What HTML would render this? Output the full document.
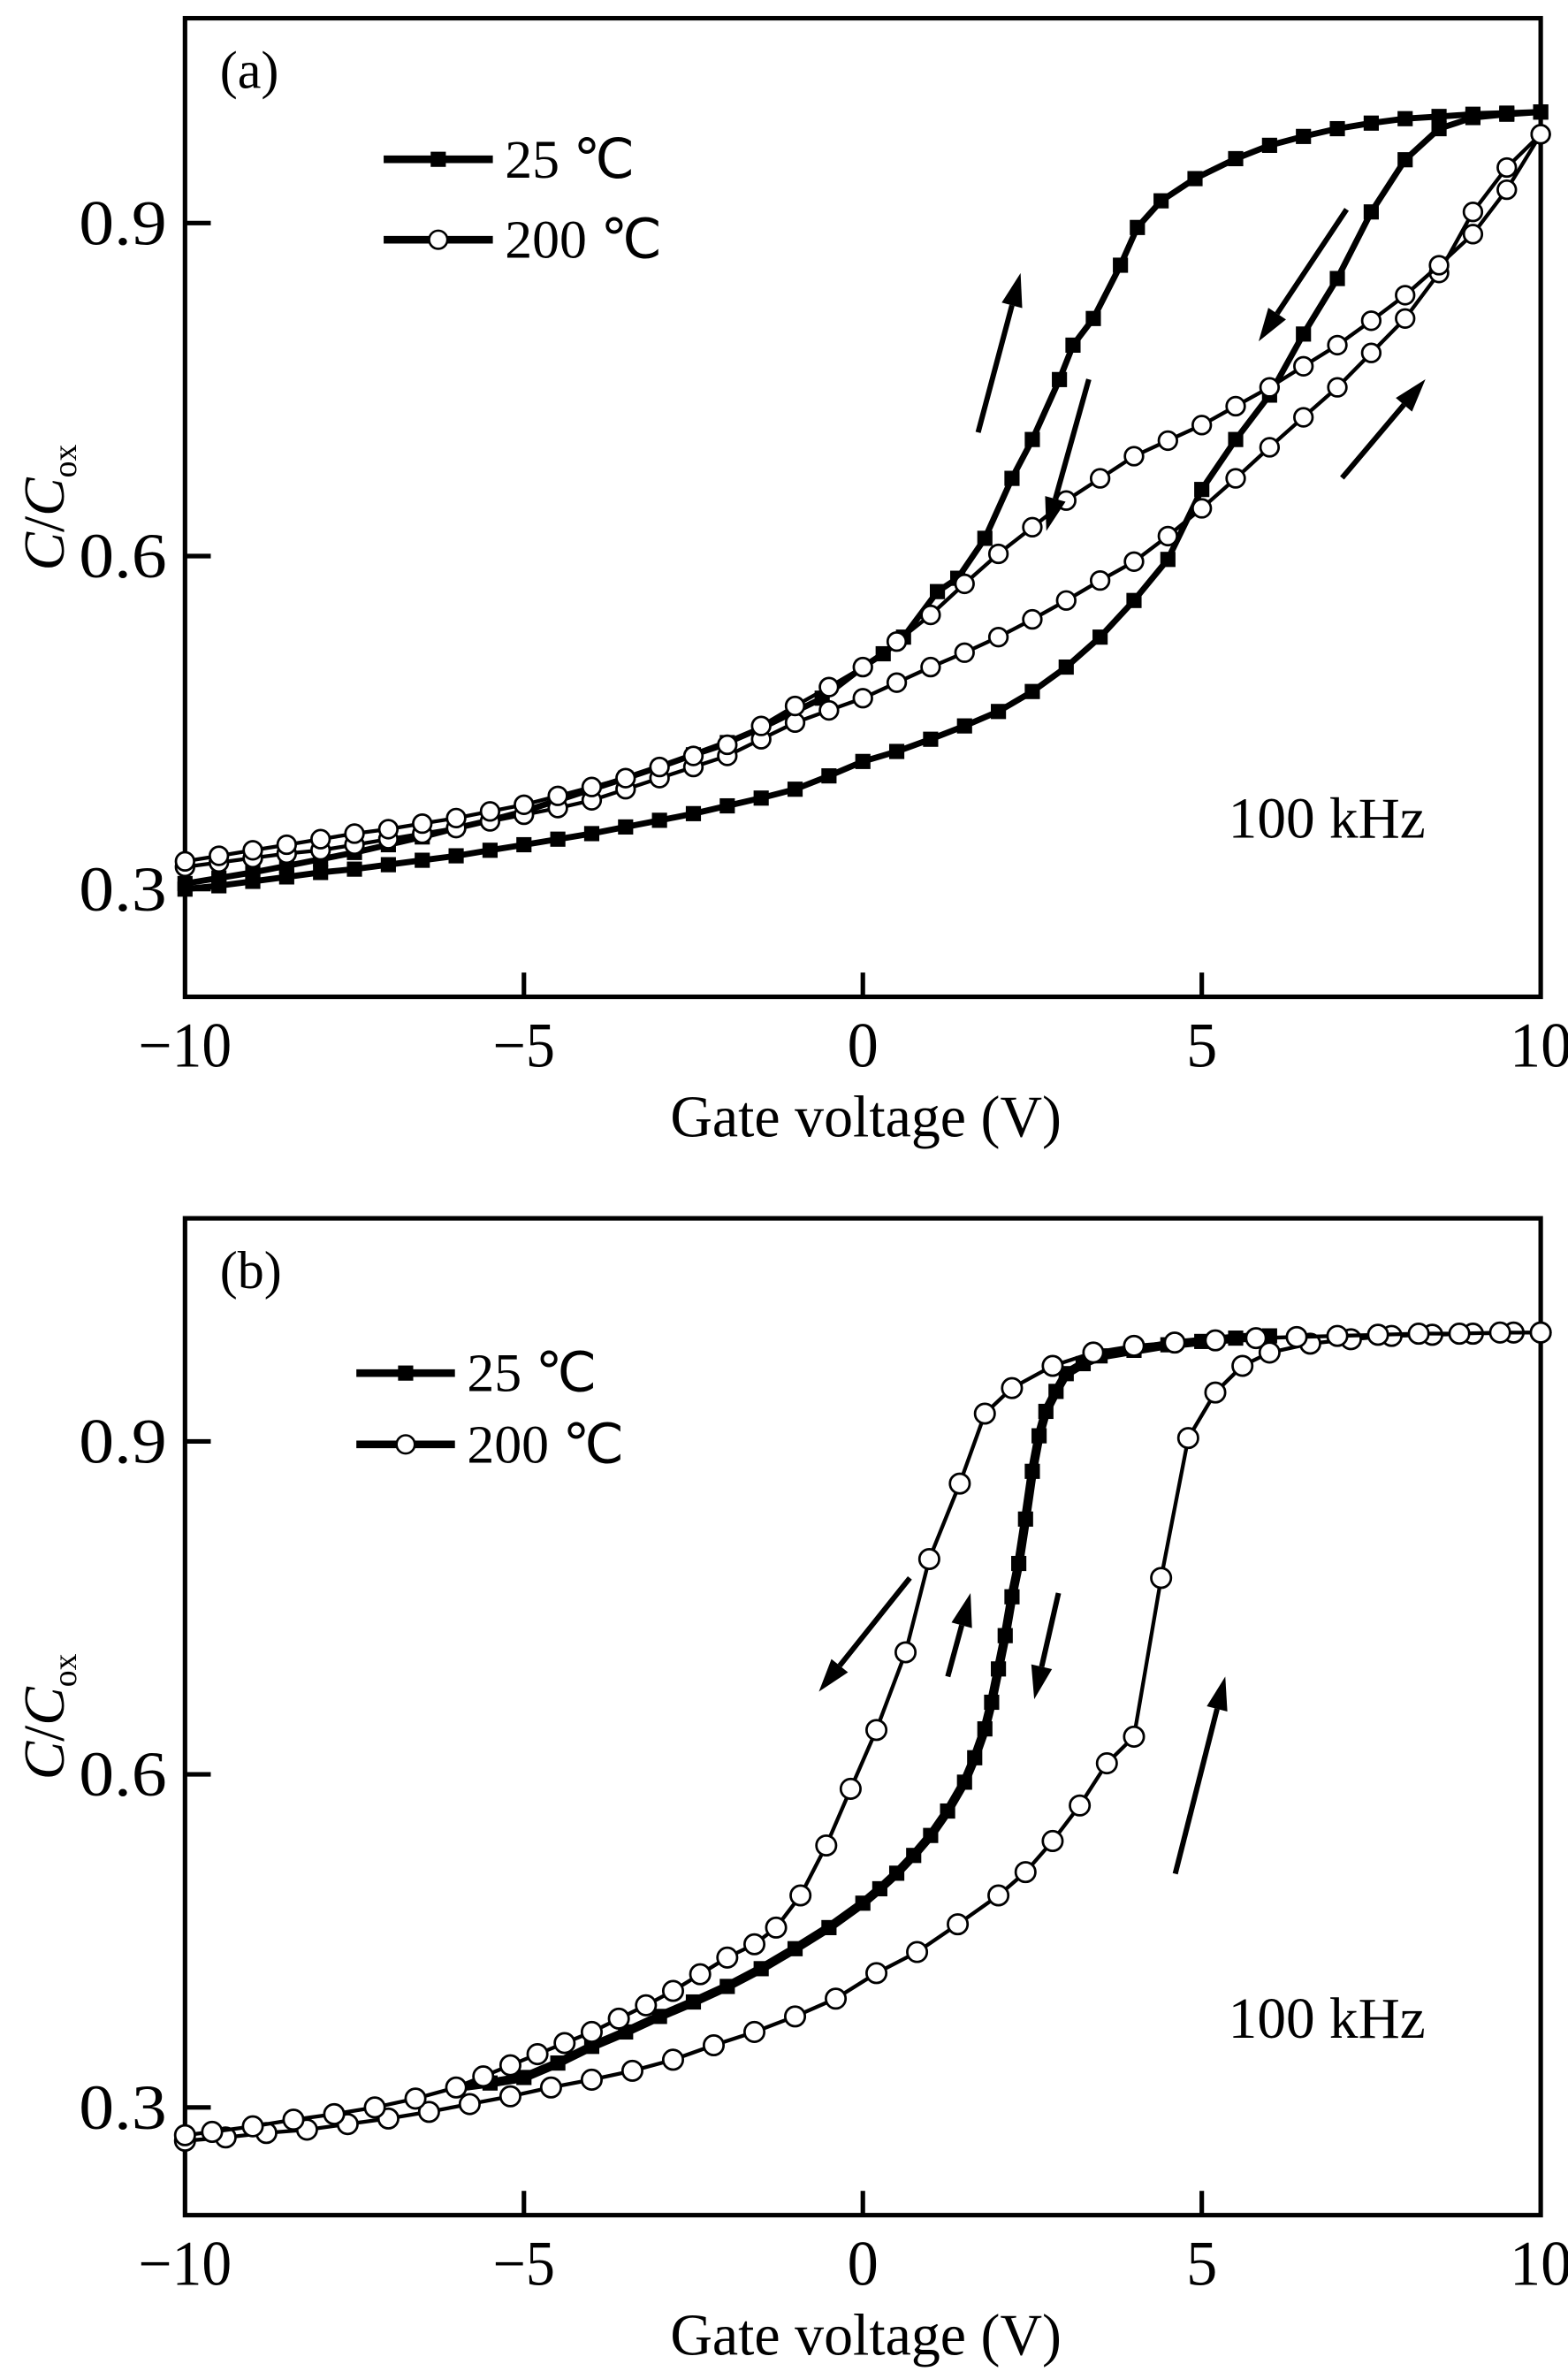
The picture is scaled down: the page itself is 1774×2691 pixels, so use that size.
<!DOCTYPE html>
<html><head><meta charset="utf-8"><style>
html,body{margin:0;padding:0;background:#fff;}
svg{display:block;}
text{font-family:"Liberation Serif",serif;fill:#000;}
</style></head><body>
<svg id="fig" width="1774" height="2691" viewBox="0 0 1034 1568" preserveAspectRatio="none" xmlns="http://www.w3.org/2000/svg">
</svg>
<script>
// ---------- Panel (a) data ----------
const aX25fwd = [-10,-9.5,-9,-8.5,-8,-7.5,-7,-6.5,-6,-5.5,-5,-4.5,-4,-3.5,-3,-2.5,-2,-1.5,-1,-0.5,0,0.5,1,1.5,2,2.5,3,3.5,4,4.5,5,5.5,6,6.5,7,7.5,8,8.5,9,9.5,10];
const aY25fwd = [0.300,0.303,0.307,0.311,0.315,0.318,0.322,0.326,0.330,0.335,0.340,0.345,0.350,0.356,0.362,0.368,0.375,0.382,0.390,0.402,0.415,0.424,0.435,0.447,0.460,0.478,0.500,0.527,0.560,0.597,0.660,0.705,0.745,0.800,0.850,0.910,0.957,0.985,0.995,0.998,1.000];
const aX25rev = [10,9.5,9,8.5,8,7.5,7,6.5,6,5.5,4.9,4.4,4.05,3.8,3.4,3.1,2.9,2.5,2.2,1.8,1.4,1.1,0.6,0.3,0,-0.6,-1.5,-2,-2.5,-3,-3.5,-4,-4.5,-5,-5.5,-6,-6.5,-7,-7.5,-8,-8.5,-9,-9.5,-10];
const aY25rev = [1.000,0.999,0.998,0.996,0.994,0.990,0.985,0.978,0.970,0.958,0.940,0.920,0.896,0.862,0.814,0.790,0.759,0.705,0.670,0.616,0.580,0.568,0.527,0.512,0.500,0.472,0.445,0.432,0.421,0.410,0.400,0.390,0.380,0.370,0.362,0.355,0.347,0.340,0.333,0.327,0.321,0.315,0.310,0.305];
const aX200fwd = [-10,-9.5,-9,-8.5,-8,-7.5,-7,-6.5,-6,-5.5,-5,-4.5,-4,-3.5,-3,-2.5,-2,-1.5,-1,-0.5,0,0.5,1,1.5,2,2.5,3,3.5,4,4.5,5,5.5,6,6.5,7,7.5,8,8.5,9,9.5,10];
const aY200fwd = [0.320,0.324,0.328,0.332,0.335,0.340,0.345,0.350,0.355,0.361,0.367,0.373,0.380,0.390,0.400,0.410,0.420,0.435,0.450,0.461,0.472,0.486,0.500,0.513,0.527,0.543,0.560,0.578,0.595,0.618,0.643,0.670,0.698,0.725,0.752,0.783,0.814,0.855,0.910,0.950,0.980];
const aX200rev = [10,9.5,9,8.5,8,7.5,7,6.5,6,5.5,5,4.5,4,3.5,3,2.5,2,1.5,1,0.5,0,-0.5,-1,-1.5,-2,-2.5,-3,-3.5,-4,-4.5,-5,-5.5,-6,-6.5,-7,-7.5,-8,-8.5,-9,-9.5,-10];
const aY200rev = [0.980,0.930,0.890,0.862,0.835,0.812,0.790,0.771,0.752,0.735,0.718,0.704,0.690,0.670,0.650,0.626,0.602,0.575,0.547,0.523,0.500,0.482,0.465,0.447,0.430,0.420,0.410,0.400,0.392,0.384,0.376,0.370,0.364,0.359,0.354,0.350,0.345,0.340,0.335,0.330,0.325];
// ---------- Panel (b) data ----------
const bX25 = [-6,-5.5,-5,-4.5,-4,-3.5,-3,-2.5,-2,-1.5,-1,-0.5,0,0.25,0.5,0.75,1,1.25,1.5,1.65,1.8,1.9,2,2.1,2.2,2.3,2.4,2.5,2.6,2.7,2.85,3,3.25,3.5,4,4.5,5,5.5,6];
const bY25 = [0.318,0.322,0.327,0.340,0.355,0.368,0.382,0.395,0.409,0.425,0.443,0.462,0.484,0.497,0.511,0.527,0.545,0.567,0.593,0.615,0.641,0.665,0.695,0.725,0.760,0.790,0.830,0.873,0.905,0.927,0.945,0.961,0.970,0.977,0.982,0.987,0.990,0.993,0.995];
const bX200fwd = [-10,-9.4,-8.8,-8.2,-7.6,-7,-6.4,-5.8,-5.2,-4.6,-4,-3.4,-2.8,-2.2,-1.6,-1,-0.4,0.2,0.8,1.4,2,2.4,2.8,3.2,3.6,4,4.4,4.8,5.2,5.6,6,6.6,7.2,7.8,8.4,9,9.6,10];
const bY200fwd = [0.270,0.273,0.277,0.280,0.285,0.290,0.296,0.303,0.310,0.318,0.325,0.333,0.343,0.356,0.368,0.382,0.398,0.421,0.440,0.465,0.491,0.512,0.540,0.572,0.610,0.634,0.777,0.903,0.944,0.968,0.980,0.988,0.992,0.995,0.996,0.997,0.998,0.998];
const bX200rev = [10,9.4,8.8,8.2,7.6,7,6.4,5.8,5.2,4.6,4,3.4,2.8,2.2,1.8,1.43,0.98,0.63,0.2,-0.18,-0.54,-0.92,-1.28,-1.6,-2,-2.4,-2.8,-3.2,-3.6,-4,-4.4,-4.8,-5.2,-5.6,-6,-6.6,-7.2,-7.8,-8.4,-9,-9.6,-10];
const bY200rev = [0.998,0.998,0.997,0.997,0.996,0.995,0.994,0.993,0.991,0.989,0.986,0.980,0.968,0.948,0.925,0.862,0.794,0.710,0.640,0.587,0.536,0.491,0.462,0.447,0.435,0.420,0.405,0.392,0.380,0.368,0.358,0.348,0.338,0.328,0.318,0.308,0.300,0.294,0.289,0.283,0.278,0.275];
const xTicks = [-10,-5,0,5,10];
const xTickLabels = ["\u221210","\u22125","0","5","10"];
const yTicks = [0.3,0.6,0.9];
const yTickLabels = ["0.3","0.6","0.9"];

const NS = "http://www.w3.org/2000/svg";
const svg = document.getElementById('fig');
function mk(tag, attrs, parent){const e=document.createElementNS(NS,tag);for(const k in attrs)e.setAttribute(k,attrs[k]);(parent||svg).appendChild(e);return e;}
const L=122,R=1016;
function xa(v){return L+(v+10)*(R-L)/20;}
function makeY(y09,pxPerUnit){return v=>y09-(v-0.9)*pxPerUnit;}

function panel(top,bottom,y09,letter,series,legend){
  const ya=makeY(y09,731.7);
  const g=mk('g',{});
  
  
  const box=mk('rect',{x:L,y:top,width:R-L,height:bottom-top,fill:'none',stroke:'#000','stroke-width':3},g);
  
  
  xTicks.forEach((t,i)=>{
    if(t>-10&&t<10){const tk=mk('line',{x1:xa(t),x2:xa(t),y1:bottom,y2:bottom-16,stroke:'#000','stroke-width':3},g);
      }
    const tl=mk('text',{x:xa(t),y:bottom+46,'font-size':42,'text-anchor':'middle','textLength':xTickLabels[i].length*20.5,'lengthAdjust':'spacingAndGlyphs'},g);
    tl.textContent=xTickLabels[i];
    
  });
  yTicks.forEach((t,i)=>{
    const tk=mk('line',{x1:L,x2:L+17,y1:ya(t),y2:ya(t),stroke:'#000','stroke-width':3},g);
    
    const tl=mk('text',{x:L-12,y:ya(t)+14,'font-size':42,'text-anchor':'end','textLength':58,'lengthAdjust':'spacingAndGlyphs'},g);
    tl.textContent=yTickLabels[i];
    
  });
  const xt=mk('text',{x:(L+R)/2+2,y:bottom+92,'font-size':39,'text-anchor':'middle','textLength':258,'lengthAdjust':'spacingAndGlyphs'},g);
  xt.textContent='Gate voltage (V)';
  
  const cy=(top+bottom)/2;
  const yt=mk('text',{x:0,y:0,'font-size':38,'text-anchor':'middle',transform:`translate(42,${cy}) rotate(-90)`},g);
  yt.innerHTML='<tspan font-style="italic">C</tspan>/<tspan font-style="italic">C</tspan><tspan font-size="22" dy="8">ox</tspan>';
  
  const pl=mk('text',{x:145,y:top+46,'font-size':35},g);
  pl.textContent='('+letter+')';
  
  const fq=mk('text',{x:810,y:top+540,'font-size':38,'textLength':130,'lengthAdjust':'spacingAndGlyphs'},g);
  fq.textContent='100 kHz';
  
  series.forEach(s=>{
    const sg=mk('g',{},g);
    
    
    const pts=s.x.map((v,i)=>xa(v).toFixed(1)+','+ya(s.y[i]).toFixed(1)).join(' ');
    mk('polyline',{points:pts,fill:'none',stroke:'#000','stroke-width':s.lw},sg);
    s.x.forEach((v,i)=>{
      let m;
      if(s.sq){m=mk('rect',{x:xa(v)-s.ms/2,y:ya(s.y[i])-s.ms/2,width:s.ms,height:s.ms,fill:'#000'},sg);}
      else{m=mk('circle',{cx:xa(v),cy:ya(s.y[i]),r:s.ms/2,fill:'#fff',stroke:'#000','stroke-width':1.6},sg);}
      
      
    });
  });
  legend.forEach(l=>{
    const lg=mk('g',{},g);
    
    
    mk('line',{x1:l.x1,x2:l.x2,y1:l.y,y2:l.y,stroke:'#000','stroke-width':5},lg);
    const mx=(l.x1+l.x2)/2;
    if(l.sq)mk('rect',{x:mx-5,y:l.y-5,width:10,height:10,fill:'#000'},lg);
    else mk('circle',{cx:mx,cy:l.y,r:6,fill:'#fff',stroke:'#000','stroke-width':1.5},lg);
    const t=mk('text',{x:l.x2+8,y:l.y+12,'font-size':36},lg);
    t.textContent=l.label;
  });
}
function arrow(x1,y1,x2,y2){
  const g=mk('g',{});
  
  
  const dx=x2-x1,dy=y2-y1,len=Math.hypot(dx,dy),ux=dx/len,uy=dy/len;
  const hx=x2-ux*22,hy=y2-uy*22;
  mk('line',{x1:x1,y1:y1,x2:hx,y2:hy,stroke:'#000','stroke-width':3.5},g);
  mk('polygon',{points:`${x2},${y2} ${hx-uy*7},${hy+ux*7} ${hx+uy*7},${hy-ux*7}`,fill:'#000'},g);
}
panel(12,657,147,'a',[
  {name:'series-25C-forward',x:aX25fwd,y:aY25fwd,sq:true,ms:10,lw:4},
  {name:'series-25C-reverse',x:aX25rev,y:aY25rev,sq:true,ms:10,lw:4},
  {name:'series-200C-forward',x:aX200fwd,y:aY200fwd,sq:false,ms:12,lw:2.5},
  {name:'series-200C-reverse',x:aX200rev,y:aY200rev,sq:false,ms:12,lw:2.5}
],[{x1:253,x2:325,y:105,sq:true,label:'25 \u2103'},{x1:253,x2:325,y:158,sq:false,label:'200 \u2103'}]);
panel(803,1460,950,'b',[
  {name:'series-25C',x:bX25,y:bY25,sq:true,ms:10,lw:6},
  {name:'series-200C-forward',x:bX200fwd,y:bY200fwd,sq:false,ms:13,lw:2.5},
  {name:'series-200C-reverse',x:bX200rev,y:bY200rev,sq:false,ms:13,lw:2.5}
],[{x1:235,x2:300,y:905,sq:true,label:'25 \u2103'},{x1:235,x2:300,y:952,sq:false,label:'200 \u2103'}]);
arrow(645,285,673,180);arrow(718,250,690,350);arrow(888,138,830,225);arrow(885,315,940,250);
arrow(600,1040,540,1115);arrow(625,1105,640,1050);arrow(698,1050,682,1120);arrow(775,1235,808,1105);
</script>
</body></html>
